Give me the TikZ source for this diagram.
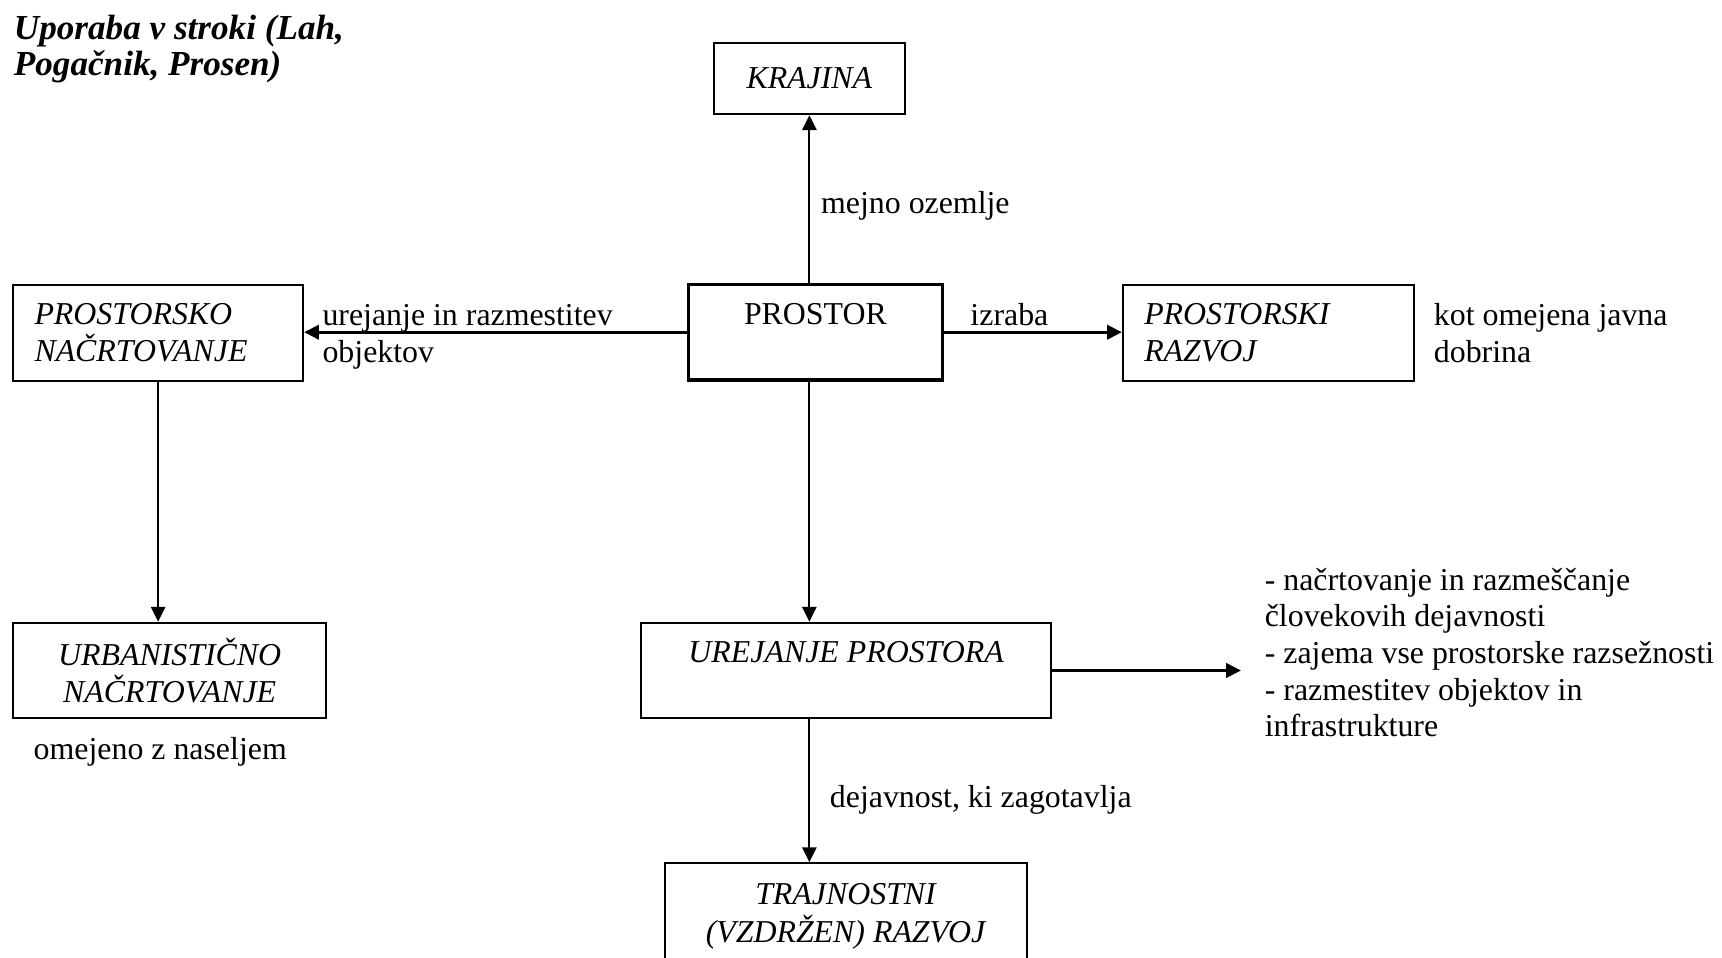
\documentclass[tikz,border=0pt]{standalone}
\usepackage{fontspec}
\setmainfont{Liberation Serif}
\usetikzlibrary{arrows.meta,positioning}

\tikzset{
	okvir/.style={draw, rectangle, line width=0.5pt, inner xsep=0pt, inner ysep=0pt, minimum height=0.87cm, align=center},
	levo/.style={okvir, align=left, inner xsep=0.195cm},
	opis/.style={inner sep=0pt, align=left, anchor=base west},
	puscica/.style={line width=0.5pt, -{Triangle[length=1.35mm, width=1.3mm]}},
	debela/.style={line width=0.8pt}
}

\begin{document}
\begin{tikzpicture}[x=0.01cm, y=-0.01cm, font=\fontsize{8.25pt}{9.67pt}\selectfont]
					\clip (0,0) rectangle (1568,872);

					\node[opis, font=\fontsize{9.1pt}{9.4pt}\selectfont\bfseries\itshape] (naslov) at (12,69) {Uporaba v stroki (Lah,\\Pogačnik, Prosen)};

					\node[okvir, minimum width=1.74cm, minimum height=0.65cm] (krajina) at (737,71.5) {\textit{KRAJINA}};
					\node[okvir, line width=0.8pt, minimum width=2.31cm] (prostor) at (742.5,302.5) {PROSTOR\\\mbox{}};
					\node[levo, text width=2.25cm] (prostorsko) at (144,303) {\textit{PROSTORSKO}\\\textit{NAČRTOVANJE}};
					\node[levo, text width=2.26cm] (prostorski) at (1155,303) {\textit{PROSTORSKI}\\\textit{RAZVOJ}};
					\node[okvir, minimum width=2.85cm] (urbanisticno) at (154.5,610.5) {\textit{URBANISTIČNO}\\\textit{NAČRTOVANJE}};
					\node[okvir, minimum width=3.73cm] (urejanje) at (770.5,610.5) {\textit{UREJANJE PROSTORA}\\\mbox{}};
					\node[okvir, minimum width=3.29cm, minimum height=0.97cm] (trajnostni) at (770.5,834.5) {\textit{TRAJNOSTNI}\\\textit{(VZDRŽEN) RAZVOJ}};

					\coordinate (desno) at (1130,610.5);

					\node[opis] (mejno) at (747,194) {mejno ozemlje};
					\node[opis] (urejanjeobj) at (293,330) {urejanje in razmestitev\\objektov};
					\node[opis] (izraba) at (883,296) {izraba};
					\node[opis] (dobrina) at (1305,330) {kot omejena javna\\dobrina};
					\node[opis] (naselje) at (30,692) {omejeno z naseljem};
					\node[opis, font=\fontsize{8.25pt}{9.5pt}\selectfont] (dejavnosti) at (1151,671) {- načrtovanje in razmeščanje\\človekovih dejavnosti\\- zajema vse prostorske razsežnosti\\- razmestitev objektov in\\infrastrukture};
					\node[opis] (zagotavlja) at (755,735) {dejavnost, ki zagotavlja};

					\path[puscica]
					(krajina.south |- prostor.north) edge (krajina.south)
					(prostor.west) edge[debela] (prostor.west -| prostorsko.east)
					(prostor.east) edge[debela] (prostor.east -| prostorski.west)
					(prostorsko.south) edge (prostorsko.south |- urbanisticno.north)
					(krajina |- prostor.south) edge (krajina |- urejanje.north)
					(urejanje.east) edge[debela] (desno)
					(krajina |- urejanje.south) edge (krajina |- trajnostni.north)
					;
				\end{tikzpicture}
\end{document}
